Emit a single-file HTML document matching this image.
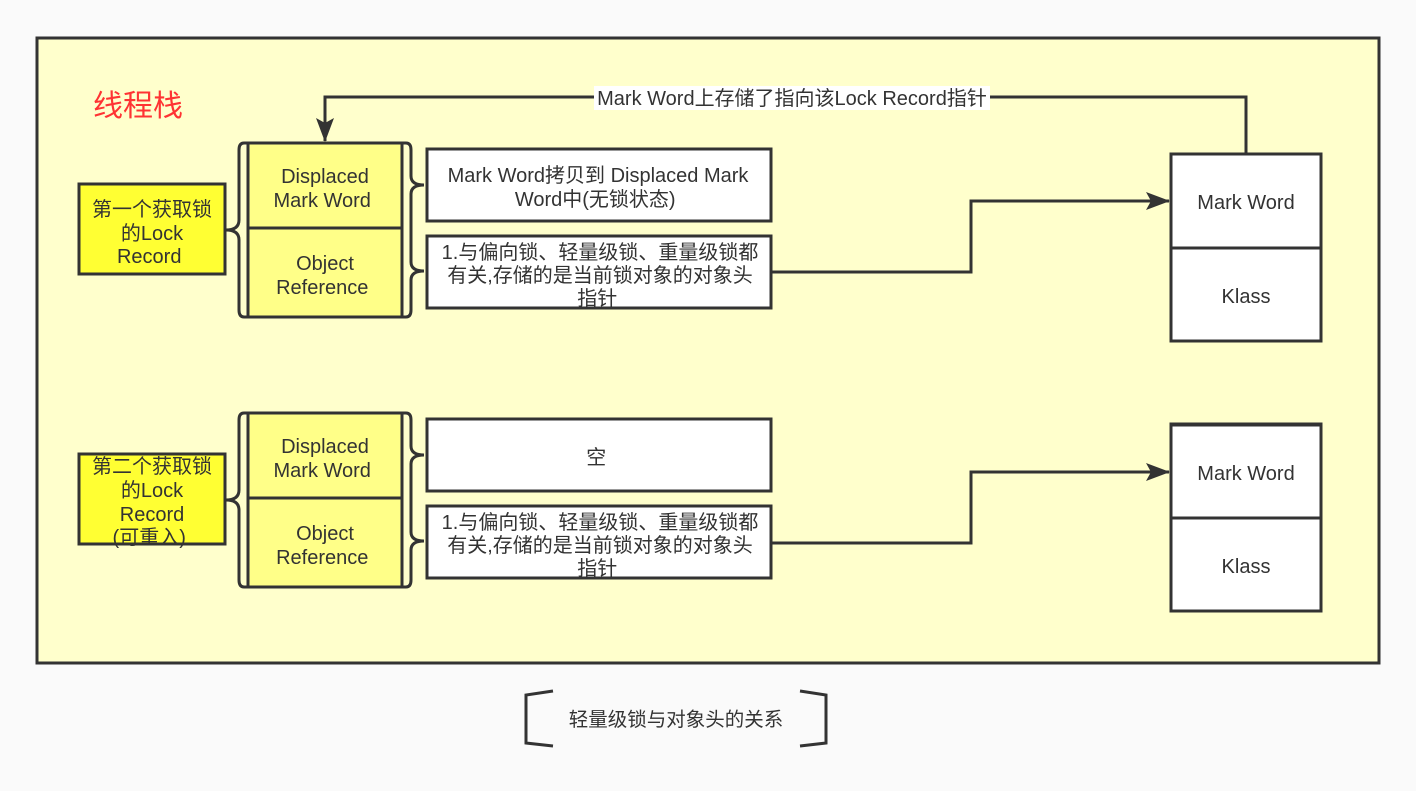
<!DOCTYPE html>
<html><head><meta charset="utf-8"><style>
html,body{margin:0;padding:0;background:#fafafa;}
svg text{font-family:"Liberation Sans","Noto Sans CJK SC",sans-serif;fill:#333;}
</style></head><body>
<svg width="1416" height="786" viewBox="0 0 1416 786" xmlns="http://www.w3.org/2000/svg">
<defs>
<marker id="b" viewBox="0 0 24 18" markerWidth="24" markerHeight="18" refX="23" refY="9" orient="auto" markerUnits="userSpaceOnUse"><path d="M0,0 L24,9 L0,18 L5,9 z" fill="#333"/></marker></defs>
<rect x="37" y="38" width="1342" height="625" fill="#ffffcc" stroke="#333" stroke-width="3"/>
<text x="93" y="116" font-size="30" style="fill:#ff3333">线程栈</text>

<g stroke="#333" stroke-width="3" fill="none">
<path d="M1246,154 V97 H325 V141" marker-end="url(#b)"/>
<path d="M771,272 H971 V201 H1169" marker-end="url(#b)"/>
<path d="M771,543 H971 V472 H1169" marker-end="url(#b)"/>
</g>
<rect x="594" y="86" width="396" height="24" fill="#fff"/>
<text x="792" y="105" font-size="20" text-anchor="middle">Mark Word上存储了指向该Lock Record指针</text>

<g id="g1">
<rect x="79" y="184" width="146" height="90" fill="#ffff33" stroke="#333" stroke-width="3"/>
<rect x="248" y="143" width="154" height="174" fill="#ffff88" stroke="#333" stroke-width="3"/>
<line x1="248" y1="228" x2="402" y2="228" stroke="#333" stroke-width="3"/>
<path d="M248,143 H244 Q239,143 239,150 V220 Q239,230 226,230 Q239,230 239,240 V310 Q239,317 244,317 H248" fill="none" stroke="#333" stroke-width="3"/>
<path d="M402,143 H406 Q411,143 411,150 V176 Q411,185 424,185 Q411,185 411,194 V262 Q411,271 424,271 Q411,271 411,280 V310 Q411,317 406,317 H402" fill="none" stroke="#333" stroke-width="3"/>
<rect x="427" y="149" width="344" height="72" fill="#fff" stroke="#333" stroke-width="3"/>
<rect x="427" y="236" width="344" height="72" fill="#fff" stroke="#333" stroke-width="3"/>
<rect x="1171" y="154" width="150" height="187" fill="#fff" stroke="#333" stroke-width="3"/>
<line x1="1171" y1="248" x2="1321" y2="248" stroke="#333" stroke-width="3"/>
</g>
<text font-size="20" text-anchor="middle">
<tspan x="152" y="216">第一个获取锁</tspan><tspan x="152" y="240">的Lock</tspan><tspan x="152" y="263">Record</tspan>
<tspan x="325" y="183">Displaced</tspan><tspan x="325" y="207">Mark Word</tspan>
<tspan x="325" y="270">Object</tspan><tspan x="325" y="294">Reference</tspan>
<tspan x="598" y="182">Mark Word拷贝到 Displaced Mark</tspan><tspan x="598" y="206">Word中(无锁状态)</tspan>
<tspan x="600" y="259">1.与偏向锁、轻量级锁、重量级锁都</tspan><tspan x="600" y="282">有关,存储的是当前锁对象的对象头</tspan><tspan x="600" y="305">指针</tspan>
<tspan x="1246" y="209">Mark Word</tspan><tspan x="1246" y="303">Klass</tspan>
</text>

<use href="#g1" transform="translate(0,270)"/>
<rect x="1171" y="425" width="150" height="186" fill="#fff" stroke="#333" stroke-width="3"/>
<line x1="1171" y1="518" x2="1321" y2="518" stroke="#333" stroke-width="3"/>
<rect x="427" y="419" width="344" height="72" fill="#fff" stroke="#333" stroke-width="3"/>
<text font-size="20" text-anchor="middle">
<tspan x="152" y="473">第二个获取锁</tspan><tspan x="152" y="497">的Lock</tspan><tspan x="152" y="521">Record</tspan><tspan x="152" y="544">(可重入)</tspan>
<tspan x="325" y="453">Displaced</tspan><tspan x="325" y="477">Mark Word</tspan>
<tspan x="325" y="540">Object</tspan><tspan x="325" y="564">Reference</tspan>
<tspan x="599" y="464">空</tspan>
<tspan x="600" y="529">1.与偏向锁、轻量级锁、重量级锁都</tspan><tspan x="600" y="552">有关,存储的是当前锁对象的对象头</tspan><tspan x="600" y="575">指针</tspan>
<tspan x="1246" y="480">Mark Word</tspan><tspan x="1246" y="573">Klass</tspan>
</text>

<g stroke="#333" stroke-width="3" fill="none">
<path d="M553,691 L526,695 V743 L553,746"/>
<path d="M800,691 L826,695 V743 L800,746"/>
</g>
<text x="676" y="726" font-size="19.5" text-anchor="middle">轻量级锁与对象头的关系</text>
</svg>
</body></html>
